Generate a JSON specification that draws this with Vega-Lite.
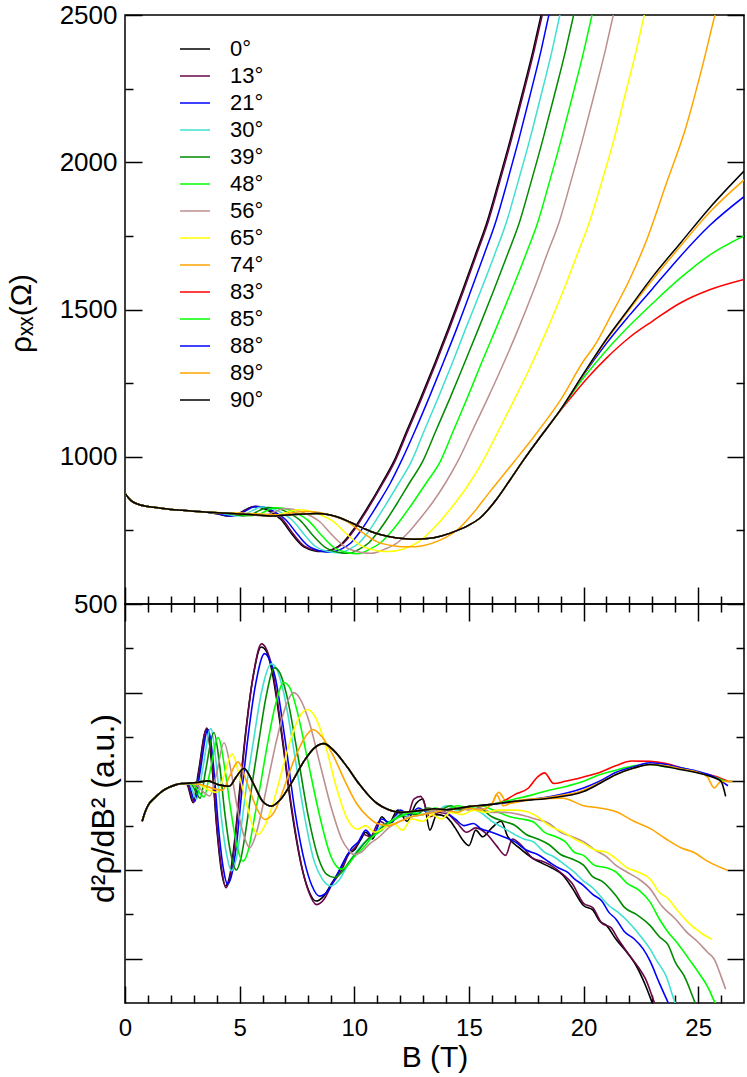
{
  "$schema": "https://vega.github.io/schema/vega-lite/v6.json",
  "background": "white",
  "padding": {"left": 5, "top": 1, "right": 4, "bottom": 0},
  "spacing": 0,
  "bounds": "flush",
  "datasets": {
    "rho": [
      {"a":0,"B":0.02,"r":874},{"a":0,"B":0.25,"r":852},{"a":0,"B":0.6,"r":838},{"a":0,"B":1.0,"r":831},{"a":0,"B":1.5,"r":826},{"a":0,"B":2.0,"r":821},{"a":0,"B":2.5,"r":818},{"a":0,"B":3.0,"r":815},{"a":0,"B":3.5,"r":812},
      {"a":0,"B":4.0,"r":806},{"a":0,"B":4.5,"r":799},{"a":0,"B":4.9,"r":805},{"a":0,"B":5.2,"r":818},{"a":0,"B":5.6,"r":830},{"a":0,"B":5.9,"r":828},{"a":0,"B":6.3,"r":815},{"a":0,"B":6.8,"r":787},{"a":0,"B":7.3,"r":735},{"a":0,"B":7.7,"r":700},{"a":0,"B":8.2,"r":682},{"a":0,"B":8.6,"r":678},
      {"a":0,"B":9.1,"r":687},{"a":0,"B":9.5,"r":708},{"a":0,"B":9.9,"r":746},{"a":0,"B":10.3,"r":793},{"a":0,"B":10.7,"r":843},{"a":0,"B":11.2,"r":910},{"a":0,"B":11.73,"r":985},{"a":0,"B":12.3,"r":1090},{"a":0,"B":12.9,"r":1200},{"a":0,"B":13.5,"r":1315},{"a":0,"B":14.1,"r":1435},{"a":0,"B":14.7,"r":1560},{"a":0,"B":15.3,"r":1690},{"a":0,"B":15.8,"r":1800},{"a":0,"B":16.3,"r":1935},{"a":0,"B":16.8,"r":2075},{"a":0,"B":17.3,"r":2225},{"a":0,"B":17.8,"r":2380},{"a":0,"B":18.15,"r":2500},{"a":0,"B":18.6,"r":2640},

      {"a":13,"B":0.02,"r":874},{"a":13,"B":0.25,"r":852},{"a":13,"B":0.6,"r":838},{"a":13,"B":1.0,"r":831},{"a":13,"B":1.5,"r":826},{"a":13,"B":2.0,"r":821},{"a":13,"B":2.5,"r":818},{"a":13,"B":3.0,"r":815},{"a":13,"B":3.5,"r":812},
      {"a":13,"B":4.05,"r":806},{"a":13,"B":4.55,"r":799},{"a":13,"B":4.95,"r":805},{"a":13,"B":5.25,"r":818},{"a":13,"B":5.65,"r":832},{"a":13,"B":5.95,"r":830},{"a":13,"B":6.34,"r":817},{"a":13,"B":6.85,"r":789},{"a":13,"B":7.36,"r":736},{"a":13,"B":7.75,"r":701},{"a":13,"B":8.26,"r":683},{"a":13,"B":8.65,"r":679},
      {"a":13,"B":9.15,"r":687},{"a":13,"B":9.55,"r":708},{"a":13,"B":9.95,"r":746},{"a":13,"B":10.35,"r":793},{"a":13,"B":10.75,"r":843},{"a":13,"B":11.25,"r":910},{"a":13,"B":11.78,"r":985},{"a":13,"B":12.35,"r":1090},{"a":13,"B":12.95,"r":1200},{"a":13,"B":13.55,"r":1315},{"a":13,"B":14.15,"r":1435},{"a":13,"B":14.75,"r":1560},{"a":13,"B":15.35,"r":1690},{"a":13,"B":15.85,"r":1800},{"a":13,"B":16.35,"r":1935},{"a":13,"B":16.85,"r":2075},{"a":13,"B":17.35,"r":2225},{"a":13,"B":17.85,"r":2380},{"a":13,"B":18.2,"r":2500},{"a":13,"B":18.65,"r":2640},

      {"a":21,"B":0.02,"r":874},{"a":21,"B":0.25,"r":852},{"a":21,"B":0.6,"r":838},{"a":21,"B":1.0,"r":831},{"a":21,"B":1.5,"r":826},{"a":21,"B":2.0,"r":821},{"a":21,"B":2.5,"r":818},{"a":21,"B":3.0,"r":815},{"a":21,"B":3.5,"r":812},
      {"a":21,"B":4.1,"r":806},{"a":21,"B":4.6,"r":799},{"a":21,"B":5.0,"r":805},{"a":21,"B":5.3,"r":818},{"a":21,"B":5.7,"r":831},{"a":21,"B":6.03,"r":829},{"a":21,"B":6.45,"r":816},{"a":21,"B":7.0,"r":787},{"a":21,"B":7.55,"r":734},{"a":21,"B":7.98,"r":698},{"a":21,"B":8.53,"r":680},{"a":21,"B":8.95,"r":676},
      {"a":21,"B":9.45,"r":687},{"a":21,"B":9.86,"r":708},{"a":21,"B":10.26,"r":746},{"a":21,"B":10.66,"r":793},{"a":21,"B":11.06,"r":843},{"a":21,"B":11.57,"r":910},{"a":21,"B":12.05,"r":985},{"a":21,"B":12.66,"r":1090},{"a":21,"B":13.26,"r":1200},{"a":21,"B":13.86,"r":1315},{"a":21,"B":14.47,"r":1435},{"a":21,"B":15.07,"r":1560},{"a":21,"B":15.68,"r":1690},{"a":21,"B":16.18,"r":1800},{"a":21,"B":16.68,"r":1935},{"a":21,"B":17.17,"r":2075},{"a":21,"B":17.66,"r":2225},{"a":21,"B":18.15,"r":2380},{"a":21,"B":18.49,"r":2500},{"a":21,"B":18.94,"r":2640},

      {"a":30,"B":0.02,"r":874},{"a":30,"B":0.25,"r":852},{"a":30,"B":0.6,"r":838},{"a":30,"B":1.0,"r":831},{"a":30,"B":1.5,"r":826},{"a":30,"B":2.0,"r":821},{"a":30,"B":2.5,"r":818},{"a":30,"B":3.0,"r":815},{"a":30,"B":3.5,"r":812},
      {"a":30,"B":4.35,"r":806},{"a":30,"B":4.85,"r":799},{"a":30,"B":5.25,"r":805},{"a":30,"B":5.55,"r":817},{"a":30,"B":5.95,"r":829},{"a":30,"B":6.29,"r":827},{"a":30,"B":6.72,"r":814},{"a":30,"B":7.29,"r":785},{"a":30,"B":7.86,"r":732},{"a":30,"B":8.3,"r":696},{"a":30,"B":8.86,"r":678},{"a":30,"B":9.3,"r":674},
      {"a":30,"B":9.82,"r":687},{"a":30,"B":10.22,"r":708},{"a":30,"B":10.62,"r":746},{"a":30,"B":11.02,"r":793},{"a":30,"B":11.42,"r":843},{"a":30,"B":11.94,"r":910},{"a":30,"B":12.5,"r":985},{"a":30,"B":13.06,"r":1090},{"a":30,"B":13.66,"r":1200},{"a":30,"B":14.26,"r":1315},{"a":30,"B":14.86,"r":1435},{"a":30,"B":15.5,"r":1560},{"a":30,"B":16.14,"r":1690},{"a":30,"B":16.65,"r":1800},{"a":30,"B":17.15,"r":1935},{"a":30,"B":17.65,"r":2075},{"a":30,"B":18.14,"r":2225},{"a":30,"B":18.63,"r":2380},{"a":30,"B":18.97,"r":2500},{"a":30,"B":19.42,"r":2640},

      {"a":39,"B":0.02,"r":874},{"a":39,"B":0.25,"r":852},{"a":39,"B":0.6,"r":838},{"a":39,"B":1.0,"r":831},{"a":39,"B":1.5,"r":826},{"a":39,"B":2.0,"r":821},{"a":39,"B":2.5,"r":818},{"a":39,"B":3.0,"r":815},{"a":39,"B":3.5,"r":812},
      {"a":39,"B":4.65,"r":806},{"a":39,"B":5.15,"r":799},{"a":39,"B":5.55,"r":805},{"a":39,"B":5.85,"r":817},{"a":39,"B":6.25,"r":828},{"a":39,"B":6.6,"r":826},{"a":39,"B":7.05,"r":813},{"a":39,"B":7.64,"r":784},{"a":39,"B":8.23,"r":730},{"a":39,"B":8.69,"r":695},{"a":39,"B":9.28,"r":676},{"a":39,"B":9.73,"r":672},
      {"a":39,"B":10.24,"r":687},{"a":39,"B":10.64,"r":708},{"a":39,"B":11.05,"r":746},{"a":39,"B":11.47,"r":793},{"a":39,"B":11.88,"r":843},{"a":39,"B":12.4,"r":910},{"a":39,"B":12.99,"r":985},{"a":39,"B":13.57,"r":1090},{"a":39,"B":14.18,"r":1200},{"a":39,"B":14.79,"r":1315},{"a":39,"B":15.42,"r":1435},{"a":39,"B":16.06,"r":1560},{"a":39,"B":16.7,"r":1690},{"a":39,"B":17.22,"r":1800},{"a":39,"B":17.72,"r":1935},{"a":39,"B":18.22,"r":2075},{"a":39,"B":18.72,"r":2225},{"a":39,"B":19.22,"r":2380},{"a":39,"B":19.57,"r":2500},{"a":39,"B":20.02,"r":2640},

      {"a":48,"B":0.02,"r":874},{"a":48,"B":0.25,"r":852},{"a":48,"B":0.6,"r":838},{"a":48,"B":1.0,"r":831},{"a":48,"B":1.5,"r":826},{"a":48,"B":2.0,"r":821},{"a":48,"B":2.5,"r":818},{"a":48,"B":3.0,"r":815},{"a":48,"B":3.5,"r":812},
      {"a":48,"B":4.95,"r":806},{"a":48,"B":5.45,"r":800},{"a":48,"B":5.85,"r":805},{"a":48,"B":6.15,"r":816},{"a":48,"B":6.55,"r":827},{"a":48,"B":6.91,"r":825},{"a":48,"B":7.38,"r":812},{"a":48,"B":8.0,"r":783},{"a":48,"B":8.61,"r":730},{"a":48,"B":9.08,"r":694},{"a":48,"B":9.69,"r":675},{"a":48,"B":10.16,"r":671},
      {"a":48,"B":10.7,"r":687},{"a":48,"B":11.15,"r":708},{"a":48,"B":11.62,"r":746},{"a":48,"B":12.09,"r":793},{"a":48,"B":12.55,"r":843},{"a":48,"B":13.13,"r":910},{"a":48,"B":13.76,"r":985},{"a":48,"B":14.33,"r":1090},{"a":48,"B":14.93,"r":1200},{"a":48,"B":15.53,"r":1315},{"a":48,"B":16.18,"r":1435},{"a":48,"B":16.84,"r":1560},{"a":48,"B":17.5,"r":1690},{"a":48,"B":18.02,"r":1800},{"a":48,"B":18.52,"r":1935},{"a":48,"B":19.02,"r":2075},{"a":48,"B":19.52,"r":2225},{"a":48,"B":20.02,"r":2380},{"a":48,"B":20.37,"r":2500},{"a":48,"B":20.82,"r":2640},

      {"a":56,"B":0.02,"r":874},{"a":56,"B":0.25,"r":852},{"a":56,"B":0.6,"r":838},{"a":56,"B":1.0,"r":831},{"a":56,"B":1.5,"r":826},{"a":56,"B":2.0,"r":821},{"a":56,"B":2.5,"r":818},{"a":56,"B":3.0,"r":815},{"a":56,"B":3.5,"r":812},
      {"a":56,"B":4.0,"r":810},{"a":56,"B":4.8,"r":808},{"a":56,"B":5.35,"r":806},{"a":56,"B":5.85,"r":800},{"a":56,"B":6.25,"r":805},{"a":56,"B":6.55,"r":814},{"a":56,"B":6.95,"r":824},{"a":56,"B":7.33,"r":822},{"a":56,"B":7.82,"r":809},{"a":56,"B":8.47,"r":781},{"a":56,"B":9.1,"r":729},{"a":56,"B":9.6,"r":694},{"a":56,"B":10.25,"r":676},{"a":56,"B":10.74,"r":672},
      {"a":56,"B":11.35,"r":687},{"a":56,"B":11.88,"r":708},{"a":56,"B":12.4,"r":746},{"a":56,"B":12.9,"r":793},{"a":56,"B":13.4,"r":843},{"a":56,"B":13.97,"r":910},{"a":56,"B":14.52,"r":985},{"a":56,"B":15.16,"r":1090},{"a":56,"B":15.83,"r":1200},{"a":56,"B":16.5,"r":1315},{"a":56,"B":17.16,"r":1435},{"a":56,"B":17.8,"r":1560},{"a":56,"B":18.42,"r":1690},{"a":56,"B":18.95,"r":1800},{"a":56,"B":19.45,"r":1935},{"a":56,"B":19.95,"r":2075},{"a":56,"B":20.45,"r":2225},{"a":56,"B":20.95,"r":2380},{"a":56,"B":21.3,"r":2500},{"a":56,"B":21.75,"r":2640},

      {"a":65,"B":0.02,"r":874},{"a":65,"B":0.25,"r":852},{"a":65,"B":0.6,"r":838},{"a":65,"B":1.0,"r":831},{"a":65,"B":1.5,"r":826},{"a":65,"B":2.0,"r":821},{"a":65,"B":2.5,"r":818},{"a":65,"B":3.0,"r":815},{"a":65,"B":3.5,"r":812},
      {"a":65,"B":4.2,"r":810},{"a":65,"B":5.0,"r":808},{"a":65,"B":5.9,"r":806},{"a":65,"B":6.4,"r":801},{"a":65,"B":6.8,"r":805},{"a":65,"B":7.1,"r":812},{"a":65,"B":7.5,"r":820},{"a":65,"B":7.9,"r":818},{"a":65,"B":8.41,"r":806},{"a":65,"B":9.09,"r":780},{"a":65,"B":9.76,"r":731},{"a":65,"B":10.28,"r":699},{"a":65,"B":10.95,"r":682},{"a":65,"B":11.47,"r":678},
      {"a":65,"B":12.15,"r":687},{"a":65,"B":12.75,"r":708},{"a":65,"B":13.32,"r":746},{"a":65,"B":13.88,"r":793},{"a":65,"B":14.4,"r":843},{"a":65,"B":15.02,"r":910},{"a":65,"B":15.61,"r":985},{"a":65,"B":16.3,"r":1090},{"a":65,"B":17.02,"r":1200},{"a":65,"B":17.74,"r":1315},{"a":65,"B":18.43,"r":1435},{"a":65,"B":19.1,"r":1560},{"a":65,"B":19.74,"r":1690},{"a":65,"B":20.27,"r":1800},{"a":65,"B":20.8,"r":1935},{"a":65,"B":21.32,"r":2075},{"a":65,"B":21.8,"r":2225},{"a":65,"B":22.3,"r":2380},{"a":65,"B":22.65,"r":2500},{"a":65,"B":23.1,"r":2640},

      {"a":74,"B":0.02,"r":874},{"a":74,"B":0.25,"r":852},{"a":74,"B":0.6,"r":838},{"a":74,"B":1.0,"r":831},{"a":74,"B":1.5,"r":826},{"a":74,"B":2.0,"r":821},{"a":74,"B":2.5,"r":818},{"a":74,"B":3.0,"r":815},{"a":74,"B":3.5,"r":812},
      {"a":74,"B":4.2,"r":810},{"a":74,"B":5.0,"r":808},{"a":74,"B":5.8,"r":806},{"a":74,"B":6.3,"r":803},{"a":74,"B":6.8,"r":803},{"a":74,"B":7.2,"r":808},{"a":74,"B":7.5,"r":812},{"a":74,"B":7.9,"r":814},{"a":74,"B":8.34,"r":812},{"a":74,"B":8.92,"r":802},{"a":74,"B":9.68,"r":780},{"a":74,"B":10.43,"r":739},{"a":74,"B":11.01,"r":711},{"a":74,"B":11.76,"r":697},{"a":74,"B":12.34,"r":694},
      {"a":74,"B":13.0,"r":698},{"a":74,"B":13.7,"r":715},{"a":74,"B":14.5,"r":752},{"a":74,"B":15.2,"r":810},{"a":74,"B":15.9,"r":880},{"a":74,"B":16.99,"r":985},{"a":74,"B":18.0,"r":1085},{"a":74,"B":19.0,"r":1193},{"a":74,"B":20.0,"r":1325},{"a":74,"B":20.47,"r":1376},{"a":74,"B":21.2,"r":1480},{"a":74,"B":22.0,"r":1600},{"a":74,"B":22.75,"r":1735},{"a":74,"B":23.6,"r":1925},{"a":74,"B":24.46,"r":2117},{"a":74,"B":25.1,"r":2300},{"a":74,"B":25.74,"r":2502},{"a":74,"B":26.2,"r":2640},

      {"a":83,"B":0.02,"r":874},{"a":83,"B":0.25,"r":852},{"a":83,"B":0.6,"r":838},{"a":83,"B":1.0,"r":831},{"a":83,"B":1.5,"r":826},{"a":83,"B":2.0,"r":821},{"a":83,"B":2.5,"r":818},{"a":83,"B":3.0,"r":815},{"a":83,"B":3.5,"r":812},
      {"a":83,"B":4.2,"r":809},{"a":83,"B":5.0,"r":806},{"a":83,"B":5.8,"r":802},{"a":83,"B":6.5,"r":799},{"a":83,"B":7.2,"r":803},{"a":83,"B":7.8,"r":806},{"a":83,"B":8.35,"r":807},{"a":83,"B":8.9,"r":803},{"a":83,"B":9.4,"r":792},{"a":83,"B":9.9,"r":775},{"a":83,"B":10.4,"r":757},{"a":83,"B":10.9,"r":741},{"a":83,"B":11.5,"r":729},{"a":83,"B":12.1,"r":722},{"a":83,"B":12.63,"r":720},{"a":83,"B":13.2,"r":722},{"a":83,"B":13.8,"r":731},{"a":83,"B":14.5,"r":750},{"a":83,"B":15.0,"r":768},{"a":83,"B":15.5,"r":793},{"a":83,"B":16.2,"r":855},{"a":83,"B":16.8,"r":922},{"a":83,"B":17.35,"r":985},{"a":83,"B":18.0,"r":1055},{"a":83,"B":19.0,"r":1158},
      {"a":83,"B":19.6,"r":1215},{"a":83,"B":20.2,"r":1270},{"a":83,"B":21.0,"r":1335},{"a":83,"B":22.0,"r":1405},{"a":83,"B":23.0,"r":1460},{"a":83,"B":24.24,"r":1523},{"a":83,"B":25.5,"r":1567},{"a":83,"B":27.0,"r":1602},

      {"a":85,"B":0.02,"r":874},{"a":85,"B":0.25,"r":852},{"a":85,"B":0.6,"r":838},{"a":85,"B":1.0,"r":831},{"a":85,"B":1.5,"r":826},{"a":85,"B":2.0,"r":821},{"a":85,"B":2.5,"r":818},{"a":85,"B":3.0,"r":815},{"a":85,"B":3.5,"r":812},
      {"a":85,"B":4.2,"r":809},{"a":85,"B":5.0,"r":806},{"a":85,"B":5.8,"r":802},{"a":85,"B":6.5,"r":799},{"a":85,"B":7.2,"r":803},{"a":85,"B":7.8,"r":806},{"a":85,"B":8.35,"r":807},{"a":85,"B":8.9,"r":803},{"a":85,"B":9.4,"r":792},{"a":85,"B":9.9,"r":775},{"a":85,"B":10.4,"r":757},{"a":85,"B":10.9,"r":741},{"a":85,"B":11.5,"r":729},{"a":85,"B":12.1,"r":722},{"a":85,"B":12.63,"r":720},{"a":85,"B":13.2,"r":722},{"a":85,"B":13.8,"r":731},{"a":85,"B":14.5,"r":750},{"a":85,"B":15.0,"r":768},{"a":85,"B":15.5,"r":793},{"a":85,"B":16.2,"r":855},{"a":85,"B":16.8,"r":922},{"a":85,"B":17.35,"r":985},{"a":85,"B":18.0,"r":1055},{"a":85,"B":19.0,"r":1160},
      {"a":85,"B":20.0,"r":1268},{"a":85,"B":21.0,"r":1362},{"a":85,"B":22.0,"r":1445},{"a":85,"B":23.0,"r":1520},{"a":85,"B":24.24,"r":1608},{"a":85,"B":25.5,"r":1685},{"a":85,"B":27.0,"r":1750},

      {"a":88,"B":0.02,"r":874},{"a":88,"B":0.25,"r":852},{"a":88,"B":0.6,"r":838},{"a":88,"B":1.0,"r":831},{"a":88,"B":1.5,"r":826},{"a":88,"B":2.0,"r":821},{"a":88,"B":2.5,"r":818},{"a":88,"B":3.0,"r":815},{"a":88,"B":3.5,"r":812},
      {"a":88,"B":4.2,"r":809},{"a":88,"B":5.0,"r":806},{"a":88,"B":5.8,"r":802},{"a":88,"B":6.5,"r":799},{"a":88,"B":7.2,"r":803},{"a":88,"B":7.8,"r":806},{"a":88,"B":8.35,"r":807},{"a":88,"B":8.9,"r":803},{"a":88,"B":9.4,"r":792},{"a":88,"B":9.9,"r":775},{"a":88,"B":10.4,"r":757},{"a":88,"B":10.9,"r":741},{"a":88,"B":11.5,"r":729},{"a":88,"B":12.1,"r":722},{"a":88,"B":12.63,"r":720},{"a":88,"B":13.2,"r":722},{"a":88,"B":13.8,"r":731},{"a":88,"B":14.5,"r":750},{"a":88,"B":15.0,"r":768},{"a":88,"B":15.5,"r":793},{"a":88,"B":16.2,"r":855},{"a":88,"B":16.8,"r":922},{"a":88,"B":17.35,"r":985},{"a":88,"B":18.0,"r":1055},{"a":88,"B":19.0,"r":1160},
      {"a":88,"B":20.0,"r":1278},{"a":88,"B":21.0,"r":1385},{"a":88,"B":22.0,"r":1480},{"a":88,"B":23.0,"r":1570},{"a":88,"B":24.24,"r":1682},{"a":88,"B":25.5,"r":1785},{"a":88,"B":27.0,"r":1883},

      {"a":89,"B":0.02,"r":874},{"a":89,"B":0.25,"r":852},{"a":89,"B":0.6,"r":838},{"a":89,"B":1.0,"r":831},{"a":89,"B":1.5,"r":826},{"a":89,"B":2.0,"r":821},{"a":89,"B":2.5,"r":818},{"a":89,"B":3.0,"r":815},{"a":89,"B":3.5,"r":812},
      {"a":89,"B":4.2,"r":809},{"a":89,"B":5.0,"r":806},{"a":89,"B":5.8,"r":802},{"a":89,"B":6.5,"r":799},{"a":89,"B":7.2,"r":803},{"a":89,"B":7.8,"r":806},{"a":89,"B":8.35,"r":807},{"a":89,"B":8.9,"r":803},{"a":89,"B":9.4,"r":792},{"a":89,"B":9.9,"r":775},{"a":89,"B":10.4,"r":757},{"a":89,"B":10.9,"r":741},{"a":89,"B":11.5,"r":729},{"a":89,"B":12.1,"r":722},{"a":89,"B":12.63,"r":720},{"a":89,"B":13.2,"r":722},{"a":89,"B":13.8,"r":731},{"a":89,"B":14.5,"r":750},{"a":89,"B":15.0,"r":768},{"a":89,"B":15.5,"r":793},{"a":89,"B":16.2,"r":855},{"a":89,"B":16.8,"r":922},{"a":89,"B":17.35,"r":985},{"a":89,"B":18.0,"r":1055},{"a":89,"B":19.0,"r":1160},
      {"a":89,"B":20.0,"r":1280},{"a":89,"B":21.0,"r":1396},{"a":89,"B":22.0,"r":1500},{"a":89,"B":23.0,"r":1600},{"a":89,"B":24.24,"r":1716},{"a":89,"B":25.5,"r":1830},{"a":89,"B":27.0,"r":1940},

      {"a":90,"B":0.02,"r":874},{"a":90,"B":0.25,"r":852},{"a":90,"B":0.6,"r":838},{"a":90,"B":1.0,"r":831},{"a":90,"B":1.5,"r":826},{"a":90,"B":2.0,"r":821},{"a":90,"B":2.5,"r":818},{"a":90,"B":3.0,"r":815},{"a":90,"B":3.5,"r":812},
      {"a":90,"B":4.2,"r":809},{"a":90,"B":5.0,"r":806},{"a":90,"B":5.8,"r":802},{"a":90,"B":6.5,"r":799},{"a":90,"B":7.2,"r":803},{"a":90,"B":7.8,"r":806},{"a":90,"B":8.35,"r":807},{"a":90,"B":8.9,"r":803},{"a":90,"B":9.4,"r":792},{"a":90,"B":9.9,"r":775},{"a":90,"B":10.4,"r":757},{"a":90,"B":10.9,"r":741},{"a":90,"B":11.5,"r":729},{"a":90,"B":12.1,"r":722},{"a":90,"B":12.63,"r":720},{"a":90,"B":13.2,"r":722},{"a":90,"B":13.8,"r":731},{"a":90,"B":14.5,"r":750},{"a":90,"B":15.0,"r":768},{"a":90,"B":15.5,"r":793},{"a":90,"B":16.2,"r":855},{"a":90,"B":16.8,"r":922},{"a":90,"B":17.35,"r":985},{"a":90,"B":18.0,"r":1055},{"a":90,"B":19.0,"r":1160},
      {"a":90,"B":20.0,"r":1282},{"a":90,"B":21.0,"r":1400},{"a":90,"B":22.0,"r":1505},{"a":90,"B":23.0,"r":1610},{"a":90,"B":24.24,"r":1727},{"a":90,"B":25.5,"r":1845},{"a":90,"B":27.0,"r":1970}
    ],
    "d2": [
      {"a":0,"B":0.75,"v":4.1},{"a":0,"B":0.85,"v":4.27},{"a":0,"B":1.0,"v":4.45},{"a":0,"B":1.3,"v":4.63},{"a":0,"B":1.6,"v":4.77},{"a":0,"B":1.9,"v":4.86},{"a":0,"B":2.2,"v":4.92},{"a":0,"B":2.5,"v":4.95},
      {"a":0,"B":2.7,"v":4.93},{"a":0,"B":2.97,"v":4.52},{"a":0,"B":3.2,"v":5.2},{"a":0,"B":3.55,"v":6.17},{"a":0,"B":3.8,"v":5.3},{"a":0,"B":3.99,"v":4.03},{"a":0,"B":4.2,"v":3.0},{"a":0,"B":4.38,"v":2.64},{"a":0,"B":4.6,"v":2.95},{"a":0,"B":4.78,"v":3.65},{"a":0,"B":5.0,"v":4.8},{"a":0,"B":5.22,"v":5.91},{"a":0,"B":5.58,"v":7.34},{"a":0,"B":5.94,"v":8.03},{"a":0,"B":6.15,"v":7.95},{"a":0,"B":6.38,"v":7.56},{"a":0,"B":6.81,"v":6.14},{"a":0,"B":7.25,"v":4.41},{"a":0,"B":7.68,"v":3.13},{"a":0,"B":8.0,"v":2.55},{"a":0,"B":8.33,"v":2.3},{"a":0,"B":8.65,"v":2.4},{"a":0,"B":8.99,"v":2.68},{"a":0,"B":9.42,"v":3.04},{"a":0,"B":9.71,"v":3.35},{"a":0,"B":10.0,"v":3.45},{"a":0,"B":10.3,"v":3.7},{"a":0,"B":10.5,"v":3.85},{"a":0,"B":10.8,"v":3.7},{"a":0,"B":11.2,"v":4.2},{"a":0,"B":11.5,"v":4.05},{"a":0,"B":11.9,"v":4.35},{"a":0,"B":12.3,"v":4.1},{"a":0,"B":12.7,"v":4.5},{"a":0,"B":13.0,"v":4.6},{"a":0,"B":13.3,"v":3.9},{"a":0,"B":13.6,"v":4.25},{"a":0,"B":14.0,"v":4.2},{"a":0,"B":14.4,"v":3.95},{"a":0,"B":14.7,"v":3.7},{"a":0,"B":15.0,"v":3.55},{"a":0,"B":15.3,"v":3.9},{"a":0,"B":15.6,"v":3.75},{"a":0,"B":16.0,"v":3.95},{"a":0,"B":16.4,"v":4.1},{"a":0,"B":16.7,"v":3.75},{"a":0,"B":17.2,"v":3.5},{"a":0,"B":17.8,"v":3.26},{"a":0,"B":18.2,"v":3.15},{"a":0,"B":18.6,"v":3.05},{"a":0,"B":19.1,"v":2.88},{"a":0,"B":19.5,"v":2.6},{"a":0,"B":20.0,"v":2.2},{"a":0,"B":20.4,"v":2.1},{"a":0,"B":20.7,"v":1.85},{"a":0,"B":21.0,"v":1.75},{"a":0,"B":21.4,"v":1.45},{"a":0,"B":21.8,"v":1.2},{"a":0,"B":22.3,"v":0.84},{"a":0,"B":22.7,"v":0.4},{"a":0,"B":23.0,"v":0.0},{"a":0,"B":23.3,"v":-0.4},

      {"a":13,"B":0.75,"v":4.1},{"a":13,"B":0.85,"v":4.27},{"a":13,"B":1.0,"v":4.45},{"a":13,"B":1.3,"v":4.63},{"a":13,"B":1.6,"v":4.77},{"a":13,"B":1.9,"v":4.86},{"a":13,"B":2.2,"v":4.92},{"a":13,"B":2.5,"v":4.95},
      {"a":13,"B":2.72,"v":4.93},{"a":13,"B":3.0,"v":4.52},{"a":13,"B":3.22,"v":5.2},{"a":13,"B":3.57,"v":6.2},{"a":13,"B":3.82,"v":5.3},{"a":13,"B":4.0,"v":4.03},{"a":13,"B":4.22,"v":3.0},{"a":13,"B":4.4,"v":2.6},{"a":13,"B":4.62,"v":2.95},{"a":13,"B":4.8,"v":3.65},{"a":13,"B":5.02,"v":4.8},{"a":13,"B":5.24,"v":5.95},{"a":13,"B":5.6,"v":7.4},{"a":13,"B":5.95,"v":8.1},{"a":13,"B":6.17,"v":7.98},{"a":13,"B":6.4,"v":7.6},{"a":13,"B":6.83,"v":6.14},{"a":13,"B":7.27,"v":4.41},{"a":13,"B":7.7,"v":3.1},{"a":13,"B":8.02,"v":2.5},{"a":13,"B":8.36,"v":2.22},{"a":13,"B":8.7,"v":2.35},{"a":13,"B":9.0,"v":2.65},{"a":13,"B":9.45,"v":3.0},{"a":13,"B":9.75,"v":3.35},{"a":13,"B":10.1,"v":3.55},{"a":13,"B":10.4,"v":3.8},{"a":13,"B":10.7,"v":3.75},{"a":13,"B":11.1,"v":4.1},{"a":13,"B":11.5,"v":4.0},{"a":13,"B":11.9,"v":4.3},{"a":13,"B":12.3,"v":4.2},{"a":13,"B":12.6,"v":4.6},{"a":13,"B":12.9,"v":4.66},{"a":13,"B":13.3,"v":4.2},{"a":13,"B":13.7,"v":4.3},{"a":13,"B":14.1,"v":4.25},{"a":13,"B":14.5,"v":4.05},{"a":13,"B":14.9,"v":3.85},{"a":13,"B":15.3,"v":3.95},{"a":13,"B":15.8,"v":3.8},{"a":13,"B":16.2,"v":3.55},{"a":13,"B":16.6,"v":3.33},{"a":13,"B":16.9,"v":3.7},{"a":13,"B":17.3,"v":3.55},{"a":13,"B":17.8,"v":3.26},{"a":13,"B":18.2,"v":3.2},{"a":13,"B":18.6,"v":3.1},{"a":13,"B":19.1,"v":2.9},{"a":13,"B":19.5,"v":2.7},{"a":13,"B":20.0,"v":2.25},{"a":13,"B":20.4,"v":2.15},{"a":13,"B":20.8,"v":1.8},{"a":13,"B":21.2,"v":1.7},{"a":13,"B":21.5,"v":1.45},{"a":13,"B":21.9,"v":1.15},{"a":13,"B":22.4,"v":0.8},{"a":13,"B":22.7,"v":0.55},{"a":13,"B":23.1,"v":0.0},{"a":13,"B":23.4,"v":-0.4},

      {"a":21,"B":0.75,"v":4.1},{"a":21,"B":0.85,"v":4.27},{"a":21,"B":1.0,"v":4.45},{"a":21,"B":1.3,"v":4.63},{"a":21,"B":1.6,"v":4.77},{"a":21,"B":1.9,"v":4.86},{"a":21,"B":2.2,"v":4.92},{"a":21,"B":2.5,"v":4.95},
      {"a":21,"B":2.75,"v":4.95},{"a":21,"B":3.05,"v":4.55},{"a":21,"B":3.27,"v":5.2},{"a":21,"B":3.62,"v":6.17},{"a":21,"B":3.87,"v":5.3},{"a":21,"B":4.07,"v":4.0},{"a":21,"B":4.3,"v":3.0},{"a":21,"B":4.47,"v":2.68},{"a":21,"B":4.7,"v":3.0},{"a":21,"B":4.88,"v":3.65},{"a":21,"B":5.1,"v":4.8},{"a":21,"B":5.33,"v":5.85},{"a":21,"B":5.7,"v":7.2},{"a":21,"B":6.09,"v":7.88},{"a":21,"B":6.3,"v":7.75},{"a":21,"B":6.55,"v":7.35},{"a":21,"B":6.98,"v":5.95},{"a":21,"B":7.42,"v":4.3},{"a":21,"B":7.85,"v":3.15},{"a":21,"B":8.15,"v":2.65},{"a":21,"B":8.48,"v":2.41},{"a":21,"B":8.8,"v":2.5},{"a":21,"B":9.15,"v":2.8},{"a":21,"B":9.55,"v":3.2},{"a":21,"B":9.9,"v":3.5},{"a":21,"B":10.2,"v":3.65},{"a":21,"B":10.5,"v":3.9},{"a":21,"B":10.8,"v":3.75},{"a":21,"B":11.2,"v":4.15},{"a":21,"B":11.6,"v":4.05},{"a":21,"B":12.0,"v":4.35},{"a":21,"B":12.4,"v":4.25},{"a":21,"B":12.8,"v":4.4},{"a":21,"B":13.2,"v":4.3},{"a":21,"B":13.6,"v":4.35},{"a":21,"B":14.0,"v":4.3},{"a":21,"B":14.4,"v":4.15},{"a":21,"B":14.8,"v":4.0},{"a":21,"B":15.2,"v":4.05},{"a":21,"B":15.5,"v":3.94},{"a":21,"B":16.0,"v":3.85},{"a":21,"B":16.5,"v":3.75},{"a":21,"B":17.0,"v":3.64},{"a":21,"B":17.5,"v":3.45},{"a":21,"B":18.0,"v":3.35},{"a":21,"B":18.5,"v":3.18},{"a":21,"B":18.9,"v":3.05},{"a":21,"B":19.3,"v":2.95},{"a":21,"B":19.6,"v":2.8},{"a":21,"B":20.0,"v":2.65},{"a":21,"B":20.4,"v":2.45},{"a":21,"B":20.8,"v":2.3},{"a":21,"B":21.1,"v":2.05},{"a":21,"B":21.4,"v":1.9},{"a":21,"B":21.8,"v":1.6},{"a":21,"B":22.2,"v":1.45},{"a":21,"B":22.6,"v":1.22},{"a":21,"B":22.9,"v":0.95},{"a":21,"B":23.3,"v":0.46},{"a":21,"B":23.7,"v":0.0},{"a":21,"B":24.0,"v":-0.3},

      {"a":30,"B":0.75,"v":4.1},{"a":30,"B":0.85,"v":4.27},{"a":30,"B":1.0,"v":4.45},{"a":30,"B":1.3,"v":4.63},{"a":30,"B":1.6,"v":4.77},{"a":30,"B":1.9,"v":4.86},{"a":30,"B":2.2,"v":4.92},{"a":30,"B":2.5,"v":4.95},
      {"a":30,"B":2.8,"v":4.95},{"a":30,"B":3.12,"v":4.6},{"a":30,"B":3.38,"v":5.25},{"a":30,"B":3.74,"v":6.19},{"a":30,"B":3.98,"v":5.4},{"a":30,"B":4.2,"v":4.2},{"a":30,"B":4.45,"v":3.3},{"a":30,"B":4.64,"v":2.98},{"a":30,"B":4.85,"v":3.25},{"a":30,"B":5.05,"v":3.9},{"a":30,"B":5.3,"v":4.9},{"a":30,"B":5.6,"v":5.9},{"a":30,"B":5.95,"v":7.0},{"a":30,"B":6.38,"v":7.65},{"a":30,"B":6.6,"v":7.55},{"a":30,"B":6.9,"v":7.05},{"a":30,"B":7.35,"v":5.75},{"a":30,"B":7.8,"v":4.3},{"a":30,"B":8.25,"v":3.2},{"a":30,"B":8.6,"v":2.8},{"a":30,"B":8.99,"v":2.64},{"a":30,"B":9.3,"v":2.75},{"a":30,"B":9.65,"v":3.05},{"a":30,"B":10.0,"v":3.35},{"a":30,"B":10.4,"v":3.6},{"a":30,"B":10.8,"v":3.75},{"a":30,"B":11.2,"v":4.0},{"a":30,"B":11.6,"v":4.1},{"a":30,"B":12.0,"v":4.25},{"a":30,"B":12.5,"v":4.2},{"a":30,"B":13.0,"v":4.35},{"a":30,"B":13.5,"v":4.3},{"a":30,"B":14.0,"v":4.45},{"a":30,"B":14.5,"v":4.35},{"a":30,"B":15.0,"v":4.4},{"a":30,"B":15.5,"v":4.3},{"a":30,"B":16.0,"v":4.1},{"a":30,"B":16.5,"v":3.95},{"a":30,"B":17.0,"v":3.8},{"a":30,"B":17.4,"v":3.7},{"a":30,"B":17.8,"v":3.64},{"a":30,"B":18.3,"v":3.4},{"a":30,"B":18.7,"v":3.3},{"a":30,"B":19.2,"v":3.11},{"a":30,"B":19.6,"v":2.95},{"a":30,"B":20.0,"v":2.75},{"a":30,"B":20.4,"v":2.6},{"a":30,"B":20.7,"v":2.43},{"a":30,"B":21.1,"v":2.2},{"a":30,"B":21.5,"v":2.05},{"a":30,"B":22.1,"v":1.75},{"a":30,"B":22.5,"v":1.5},{"a":30,"B":22.9,"v":1.22},{"a":30,"B":23.2,"v":0.95},{"a":30,"B":23.6,"v":0.61},{"a":30,"B":24.0,"v":0.0},{"a":30,"B":24.3,"v":-0.3},

      {"a":39,"B":0.75,"v":4.1},{"a":39,"B":0.85,"v":4.27},{"a":39,"B":1.0,"v":4.45},{"a":39,"B":1.3,"v":4.63},{"a":39,"B":1.6,"v":4.77},{"a":39,"B":1.9,"v":4.86},{"a":39,"B":2.2,"v":4.92},{"a":39,"B":2.5,"v":4.95},
      {"a":39,"B":2.85,"v":4.95},{"a":39,"B":3.28,"v":4.62},{"a":39,"B":3.52,"v":5.25},{"a":39,"B":3.88,"v":6.1},{"a":39,"B":4.12,"v":5.4},{"a":39,"B":4.35,"v":4.3},{"a":39,"B":4.62,"v":3.35},{"a":39,"B":4.86,"v":3.0},{"a":39,"B":5.07,"v":3.3},{"a":39,"B":5.3,"v":4.0},{"a":39,"B":5.55,"v":4.95},{"a":39,"B":5.85,"v":5.95},{"a":39,"B":6.15,"v":6.9},{"a":39,"B":6.52,"v":7.56},{"a":39,"B":6.75,"v":7.45},{"a":39,"B":7.05,"v":6.95},{"a":39,"B":7.5,"v":5.7},{"a":39,"B":8.0,"v":4.2},{"a":39,"B":8.45,"v":3.25},{"a":39,"B":8.8,"v":2.9},{"a":39,"B":9.13,"v":2.83},{"a":39,"B":9.45,"v":2.95},{"a":39,"B":9.8,"v":3.2},{"a":39,"B":10.2,"v":3.45},{"a":39,"B":10.6,"v":3.7},{"a":39,"B":11.0,"v":3.85},{"a":39,"B":11.4,"v":4.05},{"a":39,"B":11.8,"v":4.15},{"a":39,"B":12.2,"v":4.3},{"a":39,"B":12.7,"v":4.25},{"a":39,"B":13.2,"v":4.4},{"a":39,"B":13.7,"v":4.35},{"a":39,"B":14.2,"v":4.45},{"a":39,"B":14.7,"v":4.35},{"a":39,"B":15.1,"v":4.45},{"a":39,"B":15.5,"v":4.4},{"a":39,"B":16.0,"v":4.2},{"a":39,"B":16.5,"v":4.1},{"a":39,"B":17.0,"v":4.01},{"a":39,"B":17.5,"v":3.8},{"a":39,"B":18.0,"v":3.7},{"a":39,"B":18.5,"v":3.57},{"a":39,"B":19.0,"v":3.35},{"a":39,"B":19.5,"v":3.25},{"a":39,"B":20.0,"v":3.11},{"a":39,"B":20.4,"v":2.85},{"a":39,"B":20.8,"v":2.75},{"a":39,"B":21.4,"v":2.43},{"a":39,"B":21.8,"v":2.15},{"a":39,"B":22.3,"v":2.0},{"a":39,"B":22.9,"v":1.75},{"a":39,"B":23.3,"v":1.5},{"a":39,"B":23.7,"v":1.3},{"a":39,"B":24.0,"v":0.92},{"a":39,"B":24.4,"v":0.6},{"a":39,"B":24.87,"v":0.0},{"a":39,"B":25.1,"v":-0.3},

      {"a":48,"B":0.75,"v":4.1},{"a":48,"B":0.85,"v":4.27},{"a":48,"B":1.0,"v":4.45},{"a":48,"B":1.3,"v":4.63},{"a":48,"B":1.6,"v":4.77},{"a":48,"B":1.9,"v":4.86},{"a":48,"B":2.2,"v":4.92},{"a":48,"B":2.5,"v":4.95},
      {"a":48,"B":2.9,"v":4.95},{"a":48,"B":3.45,"v":4.65},{"a":48,"B":3.7,"v":5.2},{"a":48,"B":4.06,"v":5.99},{"a":48,"B":4.35,"v":5.3},{"a":48,"B":4.6,"v":4.4},{"a":48,"B":4.9,"v":3.5},{"a":48,"B":5.15,"v":3.2},{"a":48,"B":5.38,"v":3.45},{"a":48,"B":5.6,"v":4.05},{"a":48,"B":5.9,"v":4.9},{"a":48,"B":6.2,"v":5.8},{"a":48,"B":6.55,"v":6.7},{"a":48,"B":6.93,"v":7.23},{"a":48,"B":7.2,"v":7.1},{"a":48,"B":7.5,"v":6.6},{"a":48,"B":8.0,"v":5.4},{"a":48,"B":8.5,"v":4.2},{"a":48,"B":8.95,"v":3.35},{"a":48,"B":9.2,"v":3.1},{"a":48,"B":9.42,"v":3.02},{"a":48,"B":9.7,"v":3.1},{"a":48,"B":10.0,"v":3.3},{"a":48,"B":10.4,"v":3.5},{"a":48,"B":10.8,"v":3.75},{"a":48,"B":11.2,"v":3.9},{"a":48,"B":11.6,"v":4.1},{"a":48,"B":12.0,"v":4.2},{"a":48,"B":12.5,"v":4.3},{"a":48,"B":13.0,"v":4.25},{"a":48,"B":13.5,"v":4.4},{"a":48,"B":14.0,"v":4.35},{"a":48,"B":14.5,"v":4.45},{"a":48,"B":15.0,"v":4.4},{"a":48,"B":15.5,"v":4.45},{"a":48,"B":16.2,"v":4.32},{"a":48,"B":16.8,"v":4.2},{"a":48,"B":17.3,"v":4.15},{"a":48,"B":17.8,"v":4.09},{"a":48,"B":18.3,"v":3.85},{"a":48,"B":18.8,"v":3.75},{"a":48,"B":19.2,"v":3.64},{"a":48,"B":19.6,"v":3.4},{"a":48,"B":20.0,"v":3.33},{"a":48,"B":20.5,"v":3.1},{"a":48,"B":21.0,"v":3.05},{"a":48,"B":21.4,"v":2.96},{"a":48,"B":21.9,"v":2.7},{"a":48,"B":22.4,"v":2.55},{"a":48,"B":22.9,"v":2.28},{"a":48,"B":23.3,"v":1.9},{"a":48,"B":23.7,"v":1.59},{"a":48,"B":24.1,"v":1.35},{"a":48,"B":24.6,"v":0.99},{"a":48,"B":25.0,"v":0.7},{"a":48,"B":25.4,"v":0.38},{"a":48,"B":25.75,"v":0.0},{"a":48,"B":26.0,"v":-0.2},

      {"a":56,"B":0.75,"v":4.1},{"a":56,"B":0.85,"v":4.27},{"a":56,"B":1.0,"v":4.45},{"a":56,"B":1.3,"v":4.63},{"a":56,"B":1.6,"v":4.77},{"a":56,"B":1.9,"v":4.86},{"a":56,"B":2.2,"v":4.92},{"a":56,"B":2.5,"v":4.95},
      {"a":56,"B":2.95,"v":4.95},{"a":56,"B":3.7,"v":4.67},{"a":56,"B":3.98,"v":5.15},{"a":56,"B":4.32,"v":5.87},{"a":56,"B":4.62,"v":5.25},{"a":56,"B":4.9,"v":4.4},{"a":56,"B":5.2,"v":3.75},{"a":56,"B":5.44,"v":3.5},{"a":56,"B":5.68,"v":3.75},{"a":56,"B":5.95,"v":4.3},{"a":56,"B":6.25,"v":5.05},{"a":56,"B":6.6,"v":5.9},{"a":56,"B":6.95,"v":6.6},{"a":56,"B":7.36,"v":7.0},{"a":56,"B":7.65,"v":6.85},{"a":56,"B":8.0,"v":6.4},{"a":56,"B":8.5,"v":5.4},{"a":56,"B":9.0,"v":4.4},{"a":56,"B":9.45,"v":3.7},{"a":56,"B":9.75,"v":3.45},{"a":56,"B":10.0,"v":3.35},{"a":56,"B":10.3,"v":3.4},{"a":56,"B":10.7,"v":3.6},{"a":56,"B":11.1,"v":3.75},{"a":56,"B":11.5,"v":3.95},{"a":56,"B":12.0,"v":4.1},{"a":56,"B":12.5,"v":4.2},{"a":56,"B":13.0,"v":4.25},{"a":56,"B":13.5,"v":4.35},{"a":56,"B":14.0,"v":4.3},{"a":56,"B":14.5,"v":4.4},{"a":56,"B":15.0,"v":4.35},{"a":56,"B":15.5,"v":4.4},{"a":56,"B":16.0,"v":4.3},{"a":56,"B":16.6,"v":4.3},{"a":56,"B":17.3,"v":4.24},{"a":56,"B":17.9,"v":4.15},{"a":56,"B":18.5,"v":4.05},{"a":56,"B":19.0,"v":3.85},{"a":56,"B":19.5,"v":3.75},{"a":56,"B":20.0,"v":3.64},{"a":56,"B":20.5,"v":3.45},{"a":56,"B":21.0,"v":3.3},{"a":56,"B":21.4,"v":3.11},{"a":56,"B":21.9,"v":2.95},{"a":56,"B":22.4,"v":2.8},{"a":56,"B":22.9,"v":2.58},{"a":56,"B":23.4,"v":2.2},{"a":56,"B":24.0,"v":1.9},{"a":56,"B":24.5,"v":1.6},{"a":56,"B":25.0,"v":1.37},{"a":56,"B":25.4,"v":1.15},{"a":56,"B":25.7,"v":0.99},{"a":56,"B":26.0,"v":0.6},{"a":56,"B":26.2,"v":0.31},

      {"a":65,"B":0.75,"v":4.1},{"a":65,"B":0.85,"v":4.27},{"a":65,"B":1.0,"v":4.45},{"a":65,"B":1.3,"v":4.63},{"a":65,"B":1.6,"v":4.77},{"a":65,"B":1.9,"v":4.86},{"a":65,"B":2.2,"v":4.92},{"a":65,"B":2.5,"v":4.95},
      {"a":65,"B":3.0,"v":4.95},{"a":65,"B":4.0,"v":4.75},{"a":65,"B":4.3,"v":5.1},{"a":65,"B":4.67,"v":5.62},{"a":65,"B":5.0,"v":5.1},{"a":65,"B":5.35,"v":4.4},{"a":65,"B":5.6,"v":3.95},{"a":65,"B":5.8,"v":3.8},{"a":65,"B":6.05,"v":3.95},{"a":65,"B":6.4,"v":4.4},{"a":65,"B":6.8,"v":5.15},{"a":65,"B":7.2,"v":5.9},{"a":65,"B":7.55,"v":6.4},{"a":65,"B":7.97,"v":6.62},{"a":65,"B":8.3,"v":6.45},{"a":65,"B":8.7,"v":5.9},{"a":65,"B":9.2,"v":4.9},{"a":65,"B":9.65,"v":4.2},{"a":65,"B":10.14,"v":3.92},{"a":65,"B":10.5,"v":4.0},{"a":65,"B":10.9,"v":3.85},{"a":65,"B":11.3,"v":3.95},{"a":65,"B":11.7,"v":4.05},{"a":65,"B":12.1,"v":3.9},{"a":65,"B":12.5,"v":4.15},{"a":65,"B":13.0,"v":4.1},{"a":65,"B":13.4,"v":4.25},{"a":65,"B":13.8,"v":4.15},{"a":65,"B":14.2,"v":4.3},{"a":65,"B":14.7,"v":4.25},{"a":65,"B":15.2,"v":4.35},{"a":65,"B":15.7,"v":4.3},{"a":65,"B":16.3,"v":4.35},{"a":65,"B":17.0,"v":4.35},{"a":65,"B":17.5,"v":4.32},{"a":65,"B":18.0,"v":4.2},{"a":65,"B":18.5,"v":4.0},{"a":65,"B":19.1,"v":3.86},{"a":65,"B":19.6,"v":3.7},{"a":65,"B":20.0,"v":3.6},{"a":65,"B":20.5,"v":3.45},{"a":65,"B":21.0,"v":3.4},{"a":65,"B":21.4,"v":3.26},{"a":65,"B":21.9,"v":3.05},{"a":65,"B":22.4,"v":2.95},{"a":65,"B":22.9,"v":2.8},{"a":65,"B":23.3,"v":2.5},{"a":65,"B":23.7,"v":2.35},{"a":65,"B":24.0,"v":2.15},{"a":65,"B":24.3,"v":1.97},{"a":65,"B":24.6,"v":1.8},{"a":65,"B":24.9,"v":1.67},{"a":65,"B":25.2,"v":1.55},{"a":65,"B":25.6,"v":1.44},

      {"a":74,"B":0.75,"v":4.1},{"a":74,"B":0.85,"v":4.27},{"a":74,"B":1.0,"v":4.45},{"a":74,"B":1.3,"v":4.63},{"a":74,"B":1.6,"v":4.77},{"a":74,"B":1.9,"v":4.86},{"a":74,"B":2.2,"v":4.92},{"a":74,"B":2.5,"v":4.95},
      {"a":74,"B":3.0,"v":4.95},{"a":74,"B":4.25,"v":4.8},{"a":74,"B":4.55,"v":5.1},{"a":74,"B":4.93,"v":5.44},{"a":74,"B":5.3,"v":5.0},{"a":74,"B":5.7,"v":4.45},{"a":74,"B":6.09,"v":4.14},{"a":74,"B":6.5,"v":4.3},{"a":74,"B":6.9,"v":4.8},{"a":74,"B":7.35,"v":5.45},{"a":74,"B":7.8,"v":5.95},{"a":74,"B":8.19,"v":6.17},{"a":74,"B":8.6,"v":6.0},{"a":74,"B":9.13,"v":5.53},{"a":74,"B":9.6,"v":5.0},{"a":74,"B":10.1,"v":4.5},{"a":74,"B":10.6,"v":4.2},{"a":74,"B":11.0,"v":4.05},{"a":74,"B":11.5,"v":4.0},{"a":74,"B":12.0,"v":4.1},{"a":74,"B":12.5,"v":4.2},{"a":74,"B":13.0,"v":4.25},{"a":74,"B":13.5,"v":4.3},{"a":74,"B":14.0,"v":4.35},{"a":74,"B":14.5,"v":4.3},{"a":74,"B":15.0,"v":4.4},{"a":74,"B":15.5,"v":4.35},{"a":74,"B":16.0,"v":4.5},{"a":74,"B":16.3,"v":4.75},{"a":74,"B":16.7,"v":4.5},{"a":74,"B":17.3,"v":4.55},{"a":74,"B":18.0,"v":4.6},{"a":74,"B":19.1,"v":4.62},{"a":74,"B":20.0,"v":4.45},{"a":74,"B":20.7,"v":4.4},{"a":74,"B":21.4,"v":4.32},{"a":74,"B":22.2,"v":4.1},{"a":74,"B":22.9,"v":3.94},{"a":74,"B":23.6,"v":3.7},{"a":74,"B":24.3,"v":3.49},{"a":74,"B":24.8,"v":3.4},{"a":74,"B":25.4,"v":3.2},{"a":74,"B":26.3,"v":2.99},

      {"a":83,"B":0.75,"v":4.1},{"a":83,"B":0.85,"v":4.27},{"a":83,"B":1.0,"v":4.45},{"a":83,"B":1.3,"v":4.63},{"a":83,"B":1.6,"v":4.77},{"a":83,"B":1.9,"v":4.86},{"a":83,"B":2.2,"v":4.92},{"a":83,"B":2.5,"v":4.95},
      {"a":83,"B":2.8,"v":4.96},{"a":83,"B":3.2,"v":4.98},{"a":83,"B":3.6,"v":5.01},{"a":83,"B":4.1,"v":4.92},{"a":83,"B":4.55,"v":4.89},{"a":83,"B":4.85,"v":5.1},{"a":83,"B":5.19,"v":5.29},{"a":83,"B":5.6,"v":4.95},{"a":83,"B":6.0,"v":4.55},{"a":83,"B":6.38,"v":4.44},{"a":83,"B":6.8,"v":4.6},{"a":83,"B":7.3,"v":5.0},{"a":83,"B":7.8,"v":5.45},{"a":83,"B":8.25,"v":5.75},{"a":83,"B":8.67,"v":5.85},{"a":83,"B":9.1,"v":5.7},{"a":83,"B":9.71,"v":5.31},{"a":83,"B":10.2,"v":4.95},{"a":83,"B":10.58,"v":4.71},{"a":83,"B":11.0,"v":4.5},{"a":83,"B":11.45,"v":4.37},{"a":83,"B":12.0,"v":4.3},{"a":83,"B":12.5,"v":4.32},{"a":83,"B":13.0,"v":4.35},{"a":83,"B":13.5,"v":4.38},{"a":83,"B":14.0,"v":4.36},{"a":83,"B":15.0,"v":4.43},{"a":83,"B":16.0,"v":4.48},
      {"a":83,"B":16.5,"v":4.55},{"a":83,"B":17.0,"v":4.7},{"a":83,"B":17.6,"v":4.85},{"a":83,"B":18.0,"v":5.1},{"a":83,"B":18.3,"v":5.19},{"a":83,"B":18.7,"v":4.95},{"a":83,"B":19.2,"v":5.0},{"a":83,"B":20.0,"v":5.1},{"a":83,"B":20.7,"v":5.2},{"a":83,"B":21.4,"v":5.35},{"a":83,"B":22.1,"v":5.46},{"a":83,"B":22.9,"v":5.45},{"a":83,"B":23.6,"v":5.4},{"a":83,"B":24.3,"v":5.3},{"a":83,"B":25.0,"v":5.2},{"a":83,"B":25.7,"v":5.12},{"a":83,"B":26.3,"v":5.0},

      {"a":85,"B":0.75,"v":4.1},{"a":85,"B":0.85,"v":4.27},{"a":85,"B":1.0,"v":4.45},{"a":85,"B":1.3,"v":4.63},{"a":85,"B":1.6,"v":4.77},{"a":85,"B":1.9,"v":4.86},{"a":85,"B":2.2,"v":4.92},{"a":85,"B":2.5,"v":4.95},
      {"a":85,"B":2.8,"v":4.96},{"a":85,"B":3.2,"v":4.98},{"a":85,"B":3.6,"v":5.01},{"a":85,"B":4.1,"v":4.92},{"a":85,"B":4.55,"v":4.89},{"a":85,"B":4.85,"v":5.1},{"a":85,"B":5.19,"v":5.29},{"a":85,"B":5.6,"v":4.95},{"a":85,"B":6.0,"v":4.55},{"a":85,"B":6.38,"v":4.44},{"a":85,"B":6.8,"v":4.6},{"a":85,"B":7.3,"v":5.0},{"a":85,"B":7.8,"v":5.45},{"a":85,"B":8.25,"v":5.75},{"a":85,"B":8.67,"v":5.85},{"a":85,"B":9.1,"v":5.7},{"a":85,"B":9.71,"v":5.31},{"a":85,"B":10.2,"v":4.95},{"a":85,"B":10.58,"v":4.71},{"a":85,"B":11.0,"v":4.5},{"a":85,"B":11.45,"v":4.37},{"a":85,"B":12.0,"v":4.3},{"a":85,"B":12.5,"v":4.32},{"a":85,"B":13.0,"v":4.35},{"a":85,"B":13.5,"v":4.38},{"a":85,"B":14.0,"v":4.36},{"a":85,"B":15.0,"v":4.43},{"a":85,"B":16.0,"v":4.48},
      {"a":85,"B":17.0,"v":4.6},{"a":85,"B":17.8,"v":4.7},{"a":85,"B":18.5,"v":4.8},{"a":85,"B":19.2,"v":4.88},{"a":85,"B":20.0,"v":5.0},{"a":85,"B":20.7,"v":5.15},{"a":85,"B":21.4,"v":5.25},{"a":85,"B":22.2,"v":5.35},{"a":85,"B":22.9,"v":5.38},{"a":85,"B":23.6,"v":5.33},{"a":85,"B":24.3,"v":5.3},{"a":85,"B":25.0,"v":5.2},{"a":85,"B":25.7,"v":5.1},{"a":85,"B":26.2,"v":5.0},

      {"a":88,"B":0.75,"v":4.1},{"a":88,"B":0.85,"v":4.27},{"a":88,"B":1.0,"v":4.45},{"a":88,"B":1.3,"v":4.63},{"a":88,"B":1.6,"v":4.77},{"a":88,"B":1.9,"v":4.86},{"a":88,"B":2.2,"v":4.92},{"a":88,"B":2.5,"v":4.95},
      {"a":88,"B":2.8,"v":4.96},{"a":88,"B":3.2,"v":4.98},{"a":88,"B":3.6,"v":5.01},{"a":88,"B":4.1,"v":4.92},{"a":88,"B":4.55,"v":4.89},{"a":88,"B":4.85,"v":5.1},{"a":88,"B":5.19,"v":5.29},{"a":88,"B":5.6,"v":4.95},{"a":88,"B":6.0,"v":4.55},{"a":88,"B":6.38,"v":4.44},{"a":88,"B":6.8,"v":4.6},{"a":88,"B":7.3,"v":5.0},{"a":88,"B":7.8,"v":5.45},{"a":88,"B":8.25,"v":5.75},{"a":88,"B":8.67,"v":5.85},{"a":88,"B":9.1,"v":5.7},{"a":88,"B":9.71,"v":5.31},{"a":88,"B":10.2,"v":4.95},{"a":88,"B":10.58,"v":4.71},{"a":88,"B":11.0,"v":4.5},{"a":88,"B":11.45,"v":4.37},{"a":88,"B":12.0,"v":4.3},{"a":88,"B":12.5,"v":4.32},{"a":88,"B":13.0,"v":4.35},{"a":88,"B":13.5,"v":4.38},{"a":88,"B":14.0,"v":4.36},{"a":88,"B":15.0,"v":4.43},{"a":88,"B":16.0,"v":4.48},
      {"a":88,"B":17.0,"v":4.55},{"a":88,"B":18.5,"v":4.65},{"a":88,"B":20.0,"v":4.85},{"a":88,"B":20.7,"v":5.0},{"a":88,"B":21.4,"v":5.2},{"a":88,"B":22.2,"v":5.33},{"a":88,"B":22.9,"v":5.42},{"a":88,"B":23.6,"v":5.38},{"a":88,"B":24.3,"v":5.3},{"a":88,"B":25.0,"v":5.22},{"a":88,"B":25.7,"v":5.1},{"a":88,"B":26.3,"v":4.9},

      {"a":89,"B":0.75,"v":4.1},{"a":89,"B":0.85,"v":4.27},{"a":89,"B":1.0,"v":4.45},{"a":89,"B":1.3,"v":4.63},{"a":89,"B":1.6,"v":4.77},{"a":89,"B":1.9,"v":4.86},{"a":89,"B":2.2,"v":4.92},{"a":89,"B":2.5,"v":4.95},
      {"a":89,"B":2.8,"v":4.96},{"a":89,"B":3.2,"v":4.98},{"a":89,"B":3.6,"v":5.01},{"a":89,"B":4.1,"v":4.92},{"a":89,"B":4.55,"v":4.89},{"a":89,"B":4.85,"v":5.1},{"a":89,"B":5.19,"v":5.29},{"a":89,"B":5.6,"v":4.95},{"a":89,"B":6.0,"v":4.55},{"a":89,"B":6.38,"v":4.44},{"a":89,"B":6.8,"v":4.6},{"a":89,"B":7.3,"v":5.0},{"a":89,"B":7.8,"v":5.45},{"a":89,"B":8.25,"v":5.75},{"a":89,"B":8.67,"v":5.85},{"a":89,"B":9.1,"v":5.7},{"a":89,"B":9.71,"v":5.31},{"a":89,"B":10.2,"v":4.95},{"a":89,"B":10.58,"v":4.71},{"a":89,"B":11.0,"v":4.5},{"a":89,"B":11.45,"v":4.37},{"a":89,"B":12.0,"v":4.3},{"a":89,"B":12.5,"v":4.32},{"a":89,"B":13.0,"v":4.35},{"a":89,"B":13.5,"v":4.38},{"a":89,"B":14.0,"v":4.36},{"a":89,"B":15.0,"v":4.43},{"a":89,"B":16.0,"v":4.48},
      {"a":89,"B":16.2,"v":4.7},{"a":89,"B":16.5,"v":4.45},{"a":89,"B":17.0,"v":4.55},{"a":89,"B":18.5,"v":4.64},{"a":89,"B":20.0,"v":4.8},{"a":89,"B":20.7,"v":4.97},{"a":89,"B":21.4,"v":5.15},{"a":89,"B":22.2,"v":5.3},{"a":89,"B":22.9,"v":5.38},{"a":89,"B":23.6,"v":5.35},{"a":89,"B":24.3,"v":5.28},{"a":89,"B":25.0,"v":5.2},{"a":89,"B":25.4,"v":5.1},{"a":89,"B":25.7,"v":4.85},{"a":89,"B":26.0,"v":5.0},{"a":89,"B":26.5,"v":5.0},

      {"a":90,"B":0.75,"v":4.1},{"a":90,"B":0.85,"v":4.27},{"a":90,"B":1.0,"v":4.45},{"a":90,"B":1.3,"v":4.63},{"a":90,"B":1.6,"v":4.77},{"a":90,"B":1.9,"v":4.86},{"a":90,"B":2.2,"v":4.92},{"a":90,"B":2.5,"v":4.95},
      {"a":90,"B":2.8,"v":4.96},{"a":90,"B":3.2,"v":4.98},{"a":90,"B":3.6,"v":5.01},{"a":90,"B":4.1,"v":4.92},{"a":90,"B":4.55,"v":4.89},{"a":90,"B":4.85,"v":5.1},{"a":90,"B":5.19,"v":5.29},{"a":90,"B":5.6,"v":4.95},{"a":90,"B":6.0,"v":4.55},{"a":90,"B":6.38,"v":4.44},{"a":90,"B":6.8,"v":4.6},{"a":90,"B":7.3,"v":5.0},{"a":90,"B":7.8,"v":5.45},{"a":90,"B":8.25,"v":5.75},{"a":90,"B":8.67,"v":5.85},{"a":90,"B":9.1,"v":5.7},{"a":90,"B":9.71,"v":5.31},{"a":90,"B":10.2,"v":4.95},{"a":90,"B":10.58,"v":4.71},{"a":90,"B":11.0,"v":4.5},{"a":90,"B":11.45,"v":4.37},{"a":90,"B":12.0,"v":4.3},{"a":90,"B":12.5,"v":4.32},{"a":90,"B":13.0,"v":4.35},{"a":90,"B":13.5,"v":4.38},{"a":90,"B":14.0,"v":4.36},{"a":90,"B":15.0,"v":4.43},{"a":90,"B":16.0,"v":4.48},
      {"a":90,"B":17.0,"v":4.55},{"a":90,"B":18.5,"v":4.62},{"a":90,"B":20.0,"v":4.77},{"a":90,"B":20.7,"v":4.95},{"a":90,"B":21.4,"v":5.15},{"a":90,"B":22.2,"v":5.3},{"a":90,"B":22.9,"v":5.38},{"a":90,"B":23.6,"v":5.33},{"a":90,"B":24.3,"v":5.26},{"a":90,"B":25.0,"v":5.19},{"a":90,"B":25.7,"v":5.08},{"a":90,"B":26.0,"v":5.0},{"a":90,"B":26.2,"v":4.66}
    ]
  },
  "vconcat": [
    {
      "width": 619,
      "height": 589,
      "data": {"name": "rho"},
      "layer": [
        {
          "mark": {"type": "line", "strokeWidth": 1.5, "clip": true, "interpolate": "monotone"},
          "encoding": {
            "x": {
              "field": "B", "type": "quantitative",
              "scale": {"domain": [0, 27], "nice": false, "zero": false},
              "axis": {
                "orient": "bottom", "values": [0,1,2,3,4,5,6,7,8,9,10,11,12,13,14,15,16,17,18,19,20,21,22,23,24,25,26],
                "labels": false, "title": null,
                "tickSize": {"condition": {"test": "datum.value % 5 === 0", "value": -17}, "value": -8}
              }
            },
            "y": {
              "field": "r", "type": "quantitative",
              "scale": {"domain": [500, 2500], "nice": false, "zero": false},
              "axis": {
                "orient": "left", "values": [500,750,1000,1250,1500,1750,2000,2250,2500],
                "format": "d",
                "labelExpr": "datum.value % 500 === 0 ? datum.label : ''",
                "labelPadding": 25, "labelFontSize": 26,
                "tickSize": {"condition": {"test": "datum.value % 500 === 0", "value": -17}, "value": -8},
                "title": "ρₓₓ(Ω)", "titleFontSize": 30, "titleAngle": -90,
                "titleX": -104, "titleY": 298, "titleAlign": "center", "titleBaseline": "middle"
              }
            },
            "color": {
              "field": "a", "type": "ordinal",
              "scale": {
                "domain": [0,13,21,30,39,48,56,65,74,83,85,88,89,90],
                "range": ["#000000","#670748","#0000ff","#40e0d0","#008b00","#00ff00","#bc8f8f","#ffff00","#ffa500","#ff0000","#00ff00","#0000ff","#ffa500","#000000"]
              },
              "legend": {
                "orient": "none", "legendX": 54, "legendY": 18, "title": null,
                "symbolType": "stroke", "symbolSize": 900, "symbolStrokeWidth": 1.5,
                "labelFontSize": 22, "labelColor": "black", "labelOffset": 19,
                "rowPadding": 0, "padding": 0,
                "labelExpr": "datum.label + '°'"
              }
            }
          }
        },
        {
          "mark": {"type": "point", "opacity": 0, "clip": true},
          "encoding": {
            "x": {"field": "B", "type": "quantitative", "axis": null},
            "y": {
              "field": "r", "type": "quantitative",
              "axis": {
                "orient": "right", "values": [500,750,1000,1250,1500,1750,2000,2250,2500],
                "labels": false, "title": null,
                "tickSize": {"condition": {"test": "datum.value % 500 === 0", "value": -17}, "value": -8}
              }
            }
          }
        }
      ],
      "resolve": {"axis": {"x": "independent", "y": "independent"}}
    },
    {
      "width": 619,
      "height": 399,
      "data": {"name": "d2"},
      "layer": [
        {
          "mark": {"type": "line", "strokeWidth": 1.6, "clip": true, "interpolate": "monotone"},
          "encoding": {
            "x": {
              "field": "B", "type": "quantitative",
              "scale": {"domain": [0, 27], "nice": false, "zero": false},
              "axis": {
                "orient": "bottom", "values": [0,1,2,3,4,5,6,7,8,9,10,11,12,13,14,15,16,17,18,19,20,21,22,23,24,25,26],
                "labelExpr": "datum.value % 5 === 0 ? datum.label : ''",
                "labelPadding": 30, "labelFontSize": 24, "labelFlush": false,
                "tickSize": {"condition": {"test": "datum.value % 5 === 0", "value": -17}, "value": -8},
                "title": "B (T)", "titleFontSize": 30, "titleY": 63, "titleBaseline": "alphabetic"
              }
            },
            "y": {
              "field": "v", "type": "quantitative",
              "scale": {"domain": [0, 9], "nice": false, "zero": false},
              "axis": {
                "orient": "left", "values": [1,2,3,4,5,6,7,8],
                "labels": false,
                "tickSize": {"condition": {"test": "datum.value % 2 === 1", "value": -17}, "value": -8},
                "title": "d²ρ/dB² (a.u.)", "titleFontSize": 32, "titleAngle": -90,
                "titleX": -22, "titleY": 204, "titleAlign": "center", "titleBaseline": "middle"
              }
            },
            "color": {"field": "a", "type": "ordinal", "legend": null}
          }
        },
        {
          "mark": {"type": "point", "opacity": 0, "clip": true},
          "encoding": {
            "x": {
              "field": "B", "type": "quantitative",
              "axis": {
                "orient": "top", "values": [0,1,2,3,4,5,6,7,8,9,10,11,12,13,14,15,16,17,18,19,20,21,22,23,24,25,26],
                "labels": false, "title": null,
                "tickSize": {"condition": {"test": "datum.value % 5 === 0", "value": -17}, "value": -8}
              }
            },
            "y": {
              "field": "v", "type": "quantitative",
              "axis": {
                "orient": "right", "values": [1,2,3,4,5,6,7,8],
                "labels": false, "title": null,
                "tickSize": {"condition": {"test": "datum.value % 2 === 1", "value": -17}, "value": -8}
              }
            }
          }
        }
      ],
      "resolve": {"axis": {"x": "independent", "y": "independent"}}
    }
  ],
  "config": {
    "font": "Liberation Sans",
    "view": {"stroke": "black", "strokeWidth": 1.5},
    "axis": {
      "grid": false, "domain": false,
      "tickColor": "black", "tickWidth": 1.5,
      "labelColor": "black", "titleColor": "black",
      "labelFont": "Liberation Sans", "titleFont": "Liberation Sans",
      "titleFontWeight": "normal", "labelOverlap": false, "labelBound": false
    },
    "legend": {"labelFont": "Liberation Sans"}
  }
}
